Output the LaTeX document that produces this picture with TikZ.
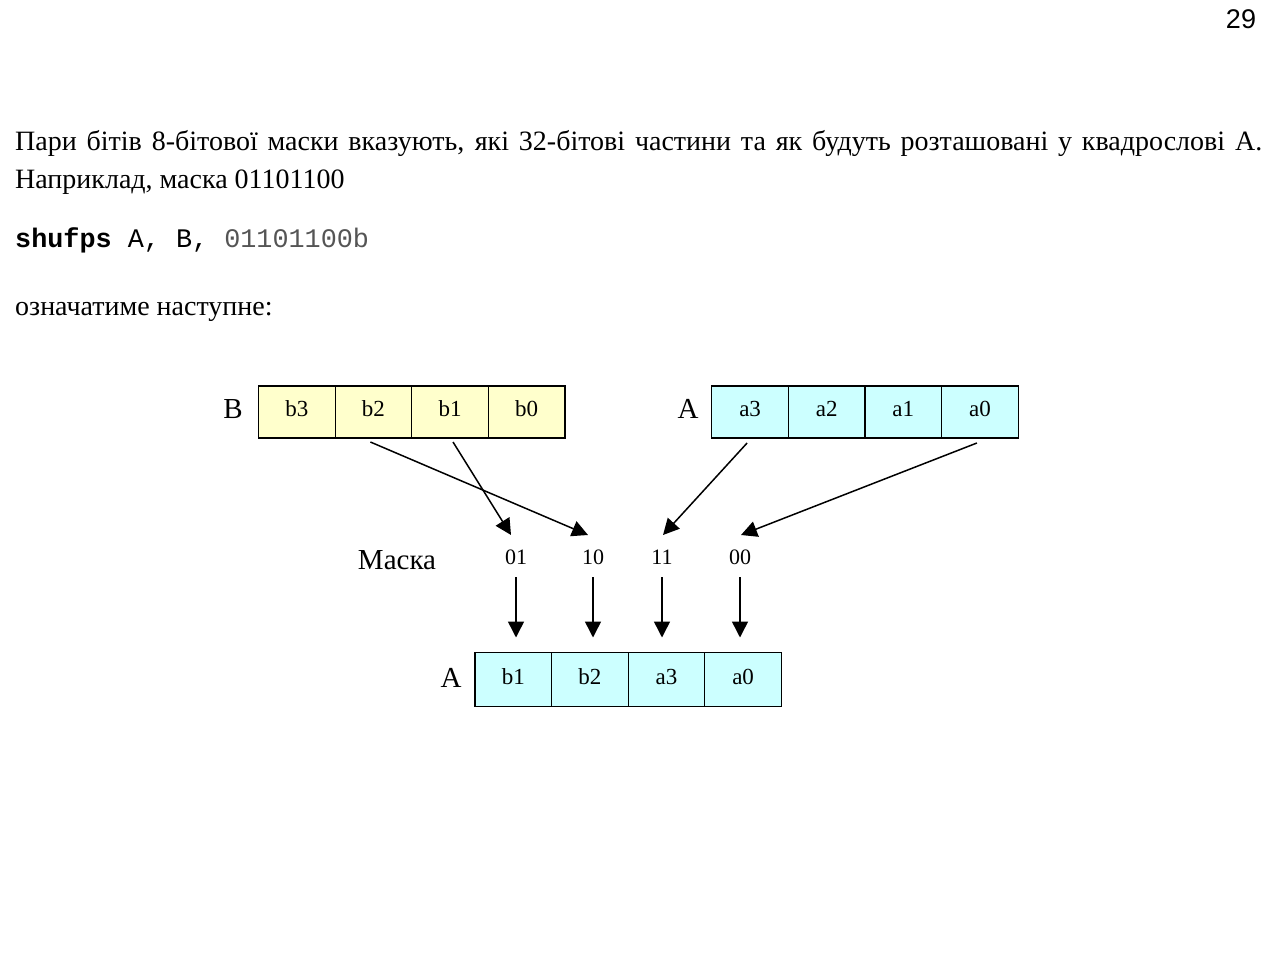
\documentclass[tikz,border=0pt]{standalone}
\usepackage{fontspec}
\setmainfont{Liberation Serif}
\setmonofont{Liberation Mono}
\newfontfamily\arialfont{Liberation Sans}
\usetikzlibrary{arrows.meta}
\definecolor{celly}{HTML}{FFFFCC}
\definecolor{cellc}{HTML}{CCFFFF}
\definecolor{codegray}{HTML}{555555}
\tikzset{
  cell/.style={draw=black, line width=1.2pt, minimum width=76.6pt, inner sep=0pt, outer sep=0pt, font=\fontsize{23}{26}\selectfont, anchor=north west, text depth=0pt},
  ycell/.style={cell, fill=celly, minimum height=52pt, text height=8pt},
  ccell/.style={cell, fill=cellc, minimum height=52pt, text height=8pt},
  rcell/.style={cell, fill=cellc, minimum height=54pt, text height=10pt},
  lbl/.style={font=\fontsize{29}{32}\selectfont, inner sep=0pt, anchor=base},
  dig/.style={font=\fontsize{22}{24}\selectfont, inner sep=0pt, anchor=base},
  arr/.style={-{Triangle[length=16pt,width=16pt]}, line width=1.5pt},
  body/.style={font=\fontsize{28}{34}\selectfont, inner sep=0pt, anchor=base west},
}
\begin{document}
\begin{tikzpicture}[x=1pt,y=-1pt]
\useasboundingbox (0,0) rectangle (1280,955);
\fill[white] (0,0) rectangle (1280,955);
% page number
\node[font=\arialfont\fontsize{27}{30}\selectfont, inner sep=0pt, anchor=base] (pg) at (1241,29) {29};
% text
\node[body] (t1) at (15,150) {\makebox[1247pt][s]{Пари бітів 8-бітової маски вказують, які 32-бітові частини та як будуть розташовані у квадрослові А.}};
\node[body] (t2) at (15,188) {Наприклад, маска 01101100};
\node[body, font=\ttfamily\fontsize{26.8}{30}\selectfont] (code) at (15,247) {{\bfseries shufps} A, B, {\color{codegray}01101100b}};
\node[body] (t3) at (15,315) {означатиме наступне:};
% B register
\node[ycell] (b3) at (258.5,386) {b3};
\node[ycell] (b2) at (335.1,386) {b2};
\node[ycell] (b1) at (411.7,386) {b1};
\node[ycell] (b0) at (488.3,386) {b0};
\node[lbl] (lB) at (233,418) {B};
% A register
\node[ccell] (a3) at (711.8,386) {a3};
\node[ccell] (a2) at (788.4,386) {a2};
\node[ccell] (a1) at (865.0,386) {a1};
\node[ccell] (a0) at (941.6,386) {a0};
\node[lbl] (lA) at (688,418) {A};
% mask
\node[lbl] (lM) at (397,569) {Маска};
\node[dig] (m01) at (516,564) {01};
\node[dig] (m10) at (593,564) {10};
\node[dig] (m11) at (662,564) {11};
\node[dig] (m00) at (740,564) {00};
\coordinate (e01) at (511,535);
\coordinate (e10) at (588,535);
\coordinate (e11) at (663,535);
\coordinate (e00) at (741,535);
% result register
\node[rcell] (r1) at (475,652.5) {b1};
\node[rcell] (r2) at (551.6,652.5) {b2};
\node[rcell] (r3) at (628.2,652.5) {a3};
\node[rcell] (r0) at (704.8,652.5) {a0};
\node[lbl] (lR) at (451,687) {A};
\coordinate (v01) at (m01.south |- r1.north);
\coordinate (v10) at (m10.south |- r2.north);
\coordinate (v11) at (m11.south |- r3.north);
\coordinate (v00) at (m00.south |- r0.north);
% arrows
\draw[arr] ([xshift=-3pt,yshift=-4pt]b2.south) -- (e10);
\draw[arr] ([xshift=3pt,yshift=-4pt]b1.south) -- (e01);
\draw[arr] ([xshift=-3pt,yshift=-5pt]a3.south) -- (e11);
\draw[arr] ([xshift=-3pt,yshift=-5pt]a0.south) -- (e00);
\draw[arr] ([yshift=-13pt]m01.south) -- ([yshift=15pt]v01);
\draw[arr] ([yshift=-13pt]m10.south) -- ([yshift=15pt]v10);
\draw[arr] ([yshift=-13pt]m11.south) -- ([yshift=15pt]v11);
\draw[arr] ([yshift=-13pt]m00.south) -- ([yshift=15pt]v00);
\end{tikzpicture}
\end{document}
